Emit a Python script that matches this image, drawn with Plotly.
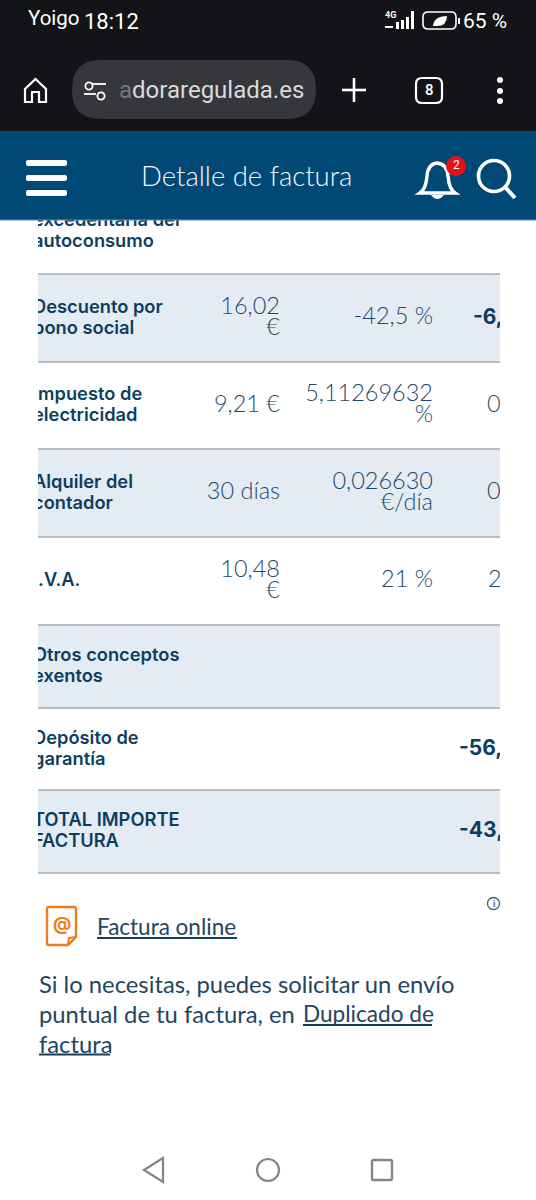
import plotly.graph_objects as go

W, H = 536, 1200

# table contents (the last column is cut off in the picture, only its visible part is kept)
row_labels = [
    ["excedentaria del", "autoconsumo"],
    ["Descuento por", "bono social"],
    ["Impuesto de", "electricidad"],
    ["Alquiler del", "contador"],
    ["I.V.A."],
    ["Otros conceptos", "exentos"],
    ["Depósito de", "garantía"],
    ["TOTAL IMPORTE", "FACTURA"],
]
row_qty = [[], ["16,02", "€"], ["9,21 €"], ["30 días"], ["10,48", "€"], [], [], []]
row_rate = [[], ["-42,5 %"], ["5,11269632", "%"], ["0,026630", "€/día"], ["21 %"], [], [], []]
row_amount = ["", "-6,", "0", "0", "2", "", "-56,", "-43,"]
amount_bold = [False, True, False, False, False, False, True, True]

# layout of the table, in screen pixels
row_edges = [188, 274, 362, 449, 537, 625, 708, 790, 873]
row_shaded = [False, True, False, True, False, True, False, True]
amount_x = [0, 473, 487, 487, 488, 0, 459, 459]
LINE_H = 21
X_LABEL, X_QTY, X_RATE = 33, 280, 433
X_LEFT, X_RIGHT = 38, 500

DARK = "#121418"
NAVY = "#004876"
BOLD_TXT = "#0c3f5f"
LIGHT_TXT = "#1d4a69"
BODY_TXT = "#21465f"
GRID = "#b8bdc4"
ROW_BG = "#e4ebf3"
ORANGE = "#ef7d1a"
NAV_GREY = "#858585"
SANS = "Inter"
BODY = "Lato"


def rrect(x0, y0, x1, y1, r):
    return (f"M{x0+r},{y0} L{x1-r},{y0} Q{x1},{y0} {x1},{y0+r} L{x1},{y1-r} Q{x1},{y1} {x1-r},{y1} "
            f"L{x0+r},{y1} Q{x0},{y1} {x0},{y1-r} L{x0},{y0+r} Q{x0},{y0} {x0+r},{y0} Z")


shapes = []


def rect(x0, y0, x1, y1, fill, layer="above"):
    shapes.append(dict(type="rect", x0=x0, y0=y0, x1=x1, y1=y1, fillcolor=fill, line_width=0, layer=layer))


def line(x0, y0, x1, y1, color, width=2, layer="above"):
    shapes.append(dict(type="line", x0=x0, y0=y0, x1=x1, y1=y1, line=dict(color=color, width=width), layer=layer))


def circle(cx, cy, r, fill="rgba(0,0,0,0)", color="rgba(0,0,0,0)", width=0):
    shapes.append(dict(type="circle", x0=cx-r, y0=cy-r, x1=cx+r, y1=cy+r, fillcolor=fill,
                       line=dict(color=color, width=width), layer="above"))


def path(d, fill="rgba(0,0,0,0)", color="rgba(0,0,0,0)", width=0):
    shapes.append(dict(type="path", path=d, fillcolor=fill, line=dict(color=color, width=width), layer="above"))


annotations = []


def label(x, y, text, size, color="white", font=BODY, anchor="left", weight=400):
    annotations.append(dict(x=x, y=y, xref="x", yref="y", text=text, showarrow=False, xanchor=anchor, yanchor="middle",
                            borderpad=0, borderwidth=0,
                            font=dict(family=font, size=size, color=color, weight=weight)))


# table backgrounds and lines
for i, shaded in enumerate(row_shaded):
    if shaded:
        rect(X_LEFT, row_edges[i], X_RIGHT, row_edges[i+1], ROW_BG, layer="below")
for e in row_edges[1:]:
    line(X_LEFT, e, X_RIGHT, e, GRID, 2, layer="below")

# table text goes in traces so the masks below can clip it
lab_x, lab_y, lab_t = [], [], []
qty_x, qty_y, qty_t = [], [], []
rate_x, rate_y, rate_t = [], [], []
amt = {True: ([], [], []), False: ([], [], [])}
for i in range(len(row_labels)):
    mid = (row_edges[i] + row_edges[i+1]) / 2 + 0.5
    for lines, xs, ys, ts, x in [(row_labels[i], lab_x, lab_y, lab_t, X_LABEL),
                                 (row_qty[i], qty_x, qty_y, qty_t, X_QTY),
                                 (row_rate[i], rate_x, rate_y, rate_t, X_RATE)]:
        for j, t in enumerate(lines):
            xs.append(x)
            ys.append(mid + (j - (len(lines) - 1) / 2) * LINE_H)
            ts.append(t)
    if row_amount[i]:
        a = amt[amount_bold[i]]
        a[0].append(amount_x[i])
        a[1].append(mid)
        a[2].append(row_amount[i])

fig = go.Figure()
fig.add_trace(go.Scatter(x=lab_x, y=lab_y, text=lab_t, mode="text", textposition="middle right",
                         textfont=dict(family=SANS, size=18.3, color=BOLD_TXT, weight=600), hoverinfo="skip"))
fig.add_trace(go.Scatter(x=qty_x + rate_x, y=qty_y + rate_y, text=qty_t + rate_t, mode="text", textposition="middle left",
                         textfont=dict(family=BODY, size=23.5, color=LIGHT_TXT, weight=300), hoverinfo="skip"))
fig.add_trace(go.Scatter(x=amt[False][0], y=amt[False][1], text=amt[False][2], mode="text", textposition="middle right",
                         textfont=dict(family=BODY, size=23.5, color=LIGHT_TXT, weight=300), hoverinfo="skip"))
fig.add_trace(go.Scatter(x=amt[True][0], y=amt[True][1], text=amt[True][2], mode="text", textposition="middle right",
                         textfont=dict(family=SANS, size=21, color=BOLD_TXT, weight=700), hoverinfo="skip"))

# masks at the table edges
rect(0, 220, X_LEFT, 880, "white")
rect(X_RIGHT, 220, W, 880, "white")

# browser chrome
rect(0, 0, W, 131, DARK)
rect(0, 131, W, 220, NAVY)
line(0, 220, W, 220, "#5f8fae", 1)

path("M25,89 L35.5,79 L46,89 L46,102 L39,102 L39,92 L32,92 L32,102 L25,102 Z", color="white", width=2.2)
path(rrect(72, 60, 316, 119, 29), fill="#36373b")
circle(89, 86, 3.6, color="white", width=1.8)
line(84, 94, 96, 94, "#ffffff", 1.8)
line(92, 84, 106, 84, "#ffffff", 1.8)
circle(101, 96, 3.6, color="white", width=1.8)
line(342, 90, 366, 90, "white", 2.6)
line(354, 78, 354, 102, "white", 2.6)
path(rrect(416, 78, 442, 103, 6), color="white", width=2.2)
circle(500, 80, 3, fill="white")
circle(500, 91, 3, fill="white")
circle(500, 101, 3, fill="white")

# status bar icons
for k, h in enumerate([7, 9, 12, 18]):
    rect(396 + k * 5, 29 - h, 399 + k * 5, 29, "white")
line(385, 27, 393, 27, "white", 2)
path(rrect(423, 12, 456, 29, 5), color="white", width=1.6)
path("M433,26 Q434,16 447,16 Q447,26 437,26 Z", fill="white")
rect(458, 18, 460, 24, "white")

# app header
for yy in [163, 178, 193]:
    path(rrect(26, yy - 3, 67, yy + 3, 2), fill="white")
path("M420,193 Q426,189 427,176 Q428,164 437,163 Q447,164 448,176 Q449,189 455,193 Z", color="white", width=3.4)
path("M431,195 Q437,203 444,195 Z", fill="white")
circle(456, 166, 10, fill="#e8101a")
circle(494, 176, 15.5, color="white", width=3.6)
line(505, 187, 515, 198, "white", 4)

# bottom icons
path("M49,907 L74,907 Q76,907 76,909 L76,937 L68,945 L49,945 Q47,945 47,943 L47,909 Q47,907 49,907 Z",
     color=ORANGE, width=2.4)
path("M76,937 L69,938 L68,945", color=ORANGE, width=2)
circle(493.5, 903.5, 6, color="#3f5f74", width=1.3)
line(97, 938, 237, 938, "#143f5c", 1.8)
line(303, 1025, 432, 1025, "#143f5c", 1.8)
line(39, 1054.5, 110, 1054.5, "#143f5c", 1.8)

# navigation bar
path("M163,1158 L144,1170 L163,1182 Z", color=NAV_GREY, width=2.2)
circle(268, 1170, 11, color=NAV_GREY, width=2.2)
path(rrect(372, 1160, 392, 1180, 1.5), color=NAV_GREY, width=2.4)

# text on top of everything
label(28, 18, "Yoigo", 20.5, font="Roboto")
label(84, 21, "18:12", 22, font="Roboto")
label(385, 15, "4G", 9, font="Roboto", weight=700)
label(463, 21, "65 %", 21, font="Roboto")
label(119, 90, '<span style="color:#77787b">a</span>doraregulada.es', 24, color="#d9dadc", font="Roboto")
label(429, 90, "8", 15, font="Roboto", anchor="center", weight=500)
label(246, 175, "Detalle de factura", 27.5, color="#f4f8fb", font=BODY, anchor="center", weight=300)
label(456, 165, "2", 12, font="Roboto", anchor="center")
label(61.5, 923, "@", 18, color=ORANGE, font=SANS, anchor="center", weight=700)
label(97, 926.5, "Factura online", 22.5, color=BODY_TXT)
label(39, 983.5, "Si lo necesitas, puedes solicitar un envío", 23.8, color=BODY_TXT)
label(39, 1013.5, "puntual de tu factura, en", 23.8, color=BODY_TXT)
label(303, 1013.5, "Duplicado de", 22.6, color=BODY_TXT)
label(39, 1043.5, "factura", 23.8, color=BODY_TXT)
label(493.5, 903.5, "i", 9, color="#3f5f74", font=SANS, anchor="center", weight=700)

fig.update_layout(
    width=W, height=H, margin=dict(l=0, r=0, t=0, b=0), showlegend=False,
    paper_bgcolor="white", plot_bgcolor="white",
    xaxis=dict(range=[0, W], visible=False, fixedrange=True),
    yaxis=dict(range=[H, 0], visible=False, fixedrange=True),
    shapes=shapes, annotations=annotations,
)

fig.write_html("out.html", config=dict(displayModeBar=False),
               post_script="document.body.style.margin='0';")
